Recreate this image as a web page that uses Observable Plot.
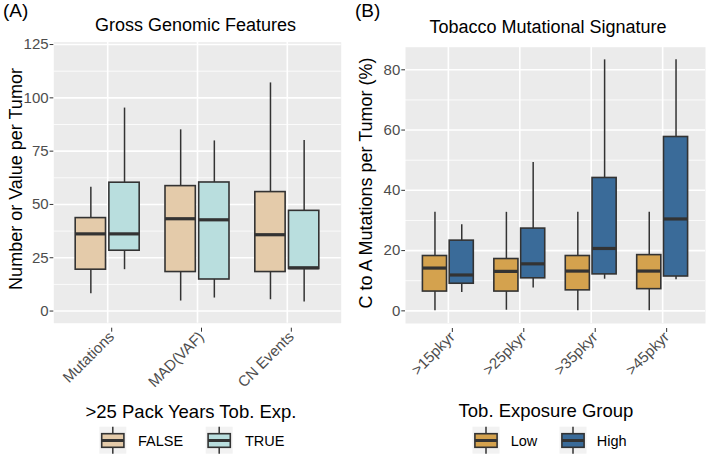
<!DOCTYPE html>
<html><head><meta charset="utf-8">
<script src="https://cdn.jsdelivr.net/npm/d3@7"></script>
<script src="https://cdn.jsdelivr.net/npm/@observablehq/plot@0.6"></script>
<style>
html,body{margin:0;padding:0;background:#fff;}
#wrap{position:relative;width:709px;height:458px;overflow:hidden;font-family:"Liberation Sans",Arial,sans-serif;background:#fff;}
#wrap > svg{position:absolute;}
</style></head><body><div id="wrap"></div>
<script>
// ---- Panel A data: Gross Genomic Features ----
const categoriesA = ["Mutations", "MAD(VAF)", "CN Events"];
const groupsA = ["FALSE", "TRUE"];
const colorsA = ["#E4CBAA", "#B9DEDE"];
// order: [cat1 FALSE, cat1 TRUE, cat2 FALSE, ...]
const lowA  = [8.1, 19.4, 4.7, 6.1, 5.3, 4.2];
const q1A   = [19.4, 28.3, 18.3, 14.8, 18.3, 19.7];
const medA  = [36.2, 36.2, 43.3, 42.8, 35.8, 20.3];
const q3A   = [43.6, 60.2, 58.6, 60.3, 55.8, 47.0];
const highA = [58.1, 95.2, 85.0, 79.8, 107.0, 80.0];
const yTicksA = [0, 25, 50, 75, 100, 125];
const yMinorA = [12.5, 37.5, 62.5, 87.5, 112.5];

// ---- Panel B data: Tobacco Mutational Signature ----
const categoriesB = [">15pkyr", ">25pkyr", ">35pkyr", ">45pkyr"];
const groupsB = ["Low", "High"];
const colorsB = ["#D4A24E", "#3A6B99"];
const lowB  = [0, 6.1, 0.2, 7.6, 0, 10.5, 0, 10.3];
const q1B   = [6.4, 9.0, 6.4, 10.8, 6.8, 12.1, 7.2, 11.4];
const medB  = [14.2, 11.9, 13.1, 15.6, 13.2, 20.7, 13.2, 30.5];
const q3B   = [18.2, 23.3, 17.2, 27.3, 18.2, 44.1, 18.5, 57.7];
const highB = [32.7, 28.6, 32.7, 49.2, 32.7, 83.3, 32.7, 83.3];
const yTicksB = [0, 20, 40, 60, 80];
const yMinorB = [10, 30, 50, 70];

const FONT = '"Liberation Sans", Arial, sans-serif';

function panel(cfg) {
  const n = cfg.cats.length, g = cfg.groups.length;
  const rows = [];
  cfg.cats.forEach((c, i) => cfg.groups.forEach((grp, j) => {
    const k = i * g + j;
    rows.push({pos: i + 1 + (j - 0.5) * 0.375, group: grp,
      low: cfg.low[k], q1: cfg.q1[k], med: cfg.med[k], q3: cfg.q3[k], high: cfg.high[k]});
  }));
  const hw = 0.16875;
  const idx = d3.range(1, n + 1);
  return Plot.plot({
    width: cfg.width, height: 400,
    marginLeft: cfg.ml, marginRight: cfg.mr, marginTop: cfg.mt, marginBottom: cfg.mb,
    style: {fontFamily: FONT, fontSize: "15px", background: "transparent", overflow: "visible"},
    x: {domain: [0.4, n + 0.6]},
    y: {domain: cfg.yDomain},
    color: {type: "ordinal", domain: cfg.groups, range: cfg.colors},
    marks: [
      Plot.frame({fill: "#EBEBEB", stroke: "none"}),
      Plot.ruleY(cfg.minor, {stroke: "#fff", strokeWidth: 0.8}),
      Plot.ruleY(cfg.ticks, {stroke: "#fff", strokeWidth: 1.6}),
      Plot.ruleX(idx, {stroke: "#fff", strokeWidth: 1.6}),
      Plot.ruleX(rows, {x: "pos", y1: "low", y2: "q1", stroke: "#333", strokeWidth: 1.5}),
      Plot.ruleX(rows, {x: "pos", y1: "q3", y2: "high", stroke: "#333", strokeWidth: 1.5}),
      Plot.rect(rows, {x1: d => d.pos - hw, x2: d => d.pos + hw, y1: "q1", y2: "q3", fill: "group", stroke: "#333", strokeWidth: 1.6}),
      Plot.ruleY(rows, {y: "med", x1: d => d.pos - hw, x2: d => d.pos + hw, stroke: "#333", strokeWidth: 3.2}),
      Plot.axisY({ticks: cfg.ticks, tickSize: 3.7, tickPadding: 1.5, stroke: "#333", fill: "#4D4D4D", label: null, tickFormat: d => String(d)}),
      Plot.axisX({ticks: idx, tickFormat: i => cfg.cats[i - 1], tickRotate: -45, tickSize: 4, tickPadding: 2, dx: 4, dy: 5, stroke: "#333", fill: "#4D4D4D", label: null})
    ]
  });
}

const wrap = document.getElementById("wrap");
const pA = panel({cats: categoriesA, groups: groupsA, colors: colorsA, low: lowA, q1: q1A, med: medA, q3: q3A, high: highA,
  ticks: yTicksA, minor: yMinorA, yDomain: [-5.7, 126.1], width: 354, ml: 53.3, mr: 13.3, mt: 41.7, mb: 77.3});
pA.style.left = "0px"; pA.style.top = "0px";
wrap.appendChild(pA);
const pB = panel({cats: categoriesB, groups: groupsB, colors: colorsB, low: lowB, q1: q1B, med: medB, q3: q3B, high: highB,
  ticks: yTicksB, minor: yMinorB, yDomain: [-4.2, 87.5], width: 355, ml: 51, mr: 4, mt: 46.7, mb: 77});
pB.style.left = "354px"; pB.style.top = "0px";
wrap.appendChild(pB);

// ---- Overlay: titles, axis titles, legends ----
const svg = d3.select(wrap).append("svg").attr("width", 709).attr("height", 458)
  .style("left", "0px").style("top", "0px").style("font-family", FONT);
function txt(x, y, s, size, anchor, rot) {
  const t = svg.append("text").attr("x", x).attr("y", y).attr("font-size", size)
    .attr("text-anchor", anchor || "start").attr("fill", "#000").text(s);
  if (rot) t.attr("transform", `rotate(${rot},${x},${y})`);
  return t;
}
txt(3, 16.5, "(A)", 19);
txt(355, 16.5, "(B)", 19);
txt(195.5, 30.7, "Gross Genomic Features", 18, "middle");
txt(548, 33, "Tobacco Mutational Signature", 18, "middle");
txt(22, 179, "Number or Value per Tumor", 18, "middle", -90);
txt(372, 183, "C to A Mutations per Tumor (%)", 18, "middle", -90);
txt(191, 418, ">25 Pack Years Tob. Exp.", 18.5, "middle");
txt(546, 417, "Tob. Exposure Group", 18.5, "middle");

function key(x, color, label, lx) {
  const y = 426.7, s = 27;
  svg.append("rect").attr("x", x).attr("y", y).attr("width", s).attr("height", s).attr("fill", "#F2F2F2");
  svg.append("line").attr("x1", x + s / 2).attr("x2", x + s / 2).attr("y1", y).attr("y2", y + s).attr("stroke", "#333").attr("stroke-width", 1.5);
  svg.append("rect").attr("x", x + 2.4).attr("y", y + 7).attr("width", s - 4.8).attr("height", 13.6)
    .attr("fill", color).attr("stroke", "#333").attr("stroke-width", 1.6);
  svg.append("line").attr("x1", x + 2.4).attr("x2", x + s - 2.4).attr("y1", y + 13.8).attr("y2", y + 13.8).attr("stroke", "#333").attr("stroke-width", 3);
  txt(lx, 445.5, label, 14.5);
}
key(99.3, colorsA[0], groupsA[0], 138);
key(205.7, colorsA[1], groupsA[1], 245);
key(472.5, colorsB[0], groupsB[0], 510.7);
key(559.5, colorsB[1], groupsB[1], 596.7);
</script></body></html>
